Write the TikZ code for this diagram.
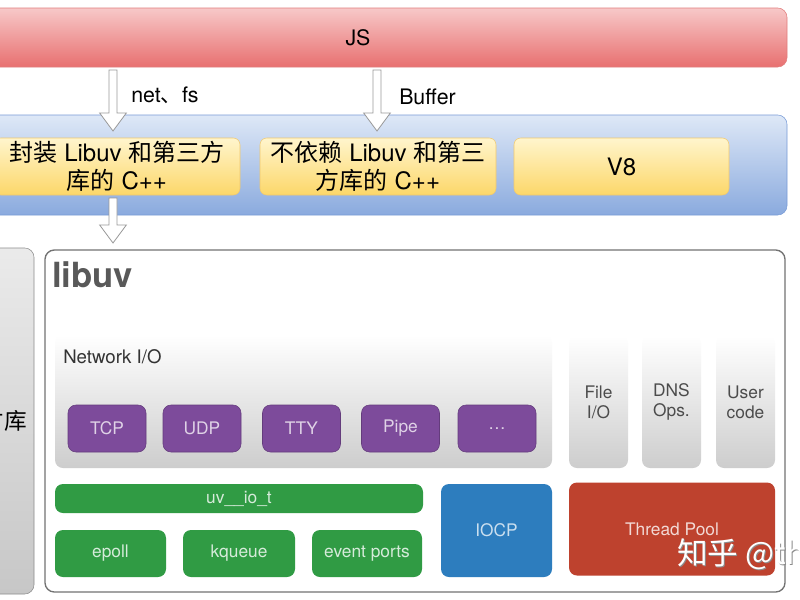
\documentclass[tikz,border=0pt]{standalone}
\usepackage{fontspec}
\setmainfont{TeX Gyre Heros}
\newfontfamily\cjk{Noto Sans CJK SC}
\usetikzlibrary{calc}

\definecolor{jstop}{RGB}{247,200,200}
\definecolor{jsbottom}{RGB}{232,112,112}
\definecolor{jsline}{RGB}{225,125,125}
\definecolor{bindtop}{RGB}{222,232,247}
\definecolor{bindbottom}{RGB}{138,170,222}
\definecolor{bindline}{RGB}{120,155,215}
\definecolor{cpptop}{RGB}{255,245,205}
\definecolor{cppbottom}{RGB}{252,215,105}
\definecolor{cppline}{RGB}{240,200,110}
\definecolor{uvpurple}{RGB}{125,75,155}
\definecolor{uvgreen}{RGB}{48,155,68}
\definecolor{uvblue}{RGB}{45,125,190}
\definecolor{uvred}{RGB}{190,66,46}
\definecolor{panelgray}{RGB}{205,205,205}

% hollow block arrow between two named points
\newcommand{\hollowarrow}[2]{%
  \draw[hollow] let \p1=(#1), \p2=(#2) in
    (\x1-3pt,\y1) -- (\x1-3pt,\y2+13.5pt) -- (\x1-10pt,\y2+13.5pt) -- (\x1,\y2)
    -- (\x1+10pt,\y2+13.5pt) -- (\x1+3pt,\y2+13.5pt) -- (\x1+3pt,\y1) -- cycle;}

\begin{document}
\begin{tikzpicture}[x=0.75pt, y=-0.75pt,
    layer/.style={rounded corners=7pt, inner sep=0pt, font=\fontsize{16}{19}\selectfont},
    jsbar/.style={layer, draw=jsline, top color=jstop, bottom color=jsbottom},
    bindbar/.style={layer, draw=bindline, top color=bindtop, bottom color=bindbottom},
    cppbox/.style={layer, rounded corners=5pt, draw=cppline, top color=cpptop, bottom color=cppbottom,
      minimum height=42.75pt, align=center, font=\fontsize{18}{21}\selectfont},
    panel/.style={rounded corners=6pt, inner sep=0pt, top color=white, bottom color=panelgray,
      text=black!70, font=\fontsize{13}{15}\selectfont, align=center},
    chip/.style={rounded corners=6pt, inner sep=0pt, font=\fontsize{13}{15}\selectfont},
    purplechip/.style={chip, fill=uvpurple, draw=uvpurple!80!black, text=uvpurple!25!white,
      minimum width=58.5pt, minimum height=35.25pt},
    greenchip/.style={chip, fill=uvgreen, text=uvgreen!20!white, minimum height=35.25pt},
    hollow/.style={draw=black!40, fill=white, line width=0.6pt},
    caption/.style={anchor=west, inner sep=0pt, font=\fontsize{16}{19}\selectfont}]

    % frame of the picture
    \clip (0,0) rectangle (800,600);
    \fill[white] (0,0) rectangle (800,600);

    % JS layer
    \node[jsbar, minimum width=643.5pt, minimum height=44.25pt] (js) at (358,37.5) {JS};

    % binding layer
    \node[bindbar, minimum width=643.5pt, minimum height=75pt] (bind) at (358,165) {};
    \node[cppbox, minimum width=184.5pt] (wrapcpp) at (117,166.5)
        {{\cjk 封装} Libuv {\cjk 和第三方}\\{\cjk 库的} C++};
    \node[cppbox, minimum width=177pt] (purecpp) at (378,166.5)
        {{\cjk 不依赖} Libuv {\cjk 和第三}\\{\cjk 方库的} C++};
    \node[cppbox, minimum width=161.25pt] (veight) at (621.5,166.5) {V8};

    % third party libraries
    \node[rounded corners=7pt, inner sep=0pt, draw=black!45, top color=black!8, bottom color=black!22,
        minimum width=78pt, minimum height=259.5pt, font=\cjk\fontsize{17}{20}\selectfont] (thirdparty) at (-18,421) {第三方库};

    % libuv container
    \node[rounded corners=7pt, inner sep=0pt, draw=black!55, line width=1pt, fill=white,
        minimum width=555pt, minimum height=256.5pt] (libuv) at (415,421) {};
    \node[anchor=west, inner sep=0pt, text=black!65, font=\bfseries\fontsize{26}{30}\selectfont] (libuvlabel) at (52,275) {libuv};

    % network I/O
    \node[panel, minimum width=372.75pt, minimum height=99.75pt] (netio) at (303.5,401.5) {};
    \node[anchor=west, inner sep=0pt, text=black!80, font=\fontsize{14}{16}\selectfont] (netiolabel) at (63,357) {Network I/O};
    \node[purplechip] (tcp) at (107,428.5) {TCP};
    \node[purplechip] (udp) at (202,428.5) {UDP};
    \node[purplechip] (tty) at (301.5,428.5) {TTY};
    \node[purplechip] (pipe) at (400.5,428.5) {Pipe};
    \node[purplechip] (more) at (497,428.5) {\dots};

    % other request types
    \node[panel, minimum width=44.25pt, minimum height=99pt] (fileio) at (598.5,402) {File\\I/O};
    \node[panel, minimum width=44.25pt, minimum height=99pt] (dnsops) at (671.5,402) {DNS\\Ops.};
    \node[panel, minimum width=44.25pt, minimum height=99pt] (usercode) at (745.5,402) {User\\code};

    % backends
    \node[greenchip, minimum width=276pt, minimum height=21.75pt] (uvio) at (239,498.5) {uv\_\_io\_t};
    \node[greenchip, minimum width=83.25pt] (epoll) at (110.5,553.5) {epoll};
    \node[greenchip, minimum width=84pt] (kqueue) at (239,553.5) {kqueue};
    \node[greenchip, minimum width=82.5pt] (evports) at (367,553.5) {event ports};
    \node[chip, fill=uvblue, text=uvblue!25!white, minimum width=83.25pt, minimum height=69.75pt] (iocp) at (496.5,530.5) {IOCP};
    \node[chip, fill=uvred, text=uvred!20!white, minimum width=154.5pt, minimum height=69.75pt] (threadpool) at (672,529) {Thread Pool};

    % arrows between the layers
    \coordinate (netfrom) at (113,70);
    \coordinate (netto) at (113,131);
    \coordinate (buffrom) at (377,70);
    \coordinate (bufto) at (377,131);
    \coordinate (uvfrom) at (113,198);
    \coordinate (uvto) at (113,243);
    \hollowarrow{netfrom}{netto}
    \hollowarrow{buffrom}{bufto}
    \hollowarrow{uvfrom}{uvto}
    \node[caption] (netlabel) at (131,95) {net{\cjk 、}fs};
    \node[caption] (buflabel) at (399,97) {Buffer};

    % watermark
    \node[anchor=west, inner sep=0pt, text=black!45, font=\cjk\fontsize{23}{25}\selectfont] (markshadow) at (678,555.5) {知乎 @th};
    \node[anchor=west, inner sep=0pt, text=white, font=\cjk\fontsize{23}{25}\selectfont] (mark) at (677,554) {知乎 @th};

\end{tikzpicture}
\end{document}
